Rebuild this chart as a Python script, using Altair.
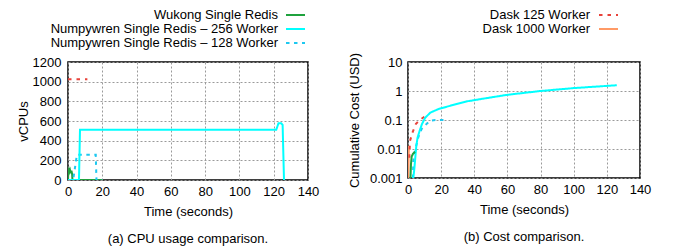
import altair as alt
import pandas as pd

FONT = "Liberation Sans"

# ---- series definitions ----
series_names = [
    "Wukong Single Redis",
    "Numpywren Single Redis – 256 Worker",
    "Numpywren Single Redis – 128 Worker",
    "Dask 125 Worker",
    "Dask 1000 Worker",
]
series_colors = ["#1fa23e", "#00ffff", "#1ec8f0", "#e8423a", "#ff9a66"]
series_dash = [[1, 0], [1, 0], [3.5, 4.5], [3.5, 5], [1, 0]]

# ---- panel (a): CPU usage (vCPUs) ----
cpu_wukong_t = [0, 0.2, 0.5, 0.8, 1.2, 1.6, 2.0, 2.4, 2.6, 20]
cpu_wukong_v = [0, 90, 105, 80, 100, 70, 95, 60, 0, 0]
cpu_np256_t = [0, 6.4, 7.0, 121.5, 122.8, 124.4, 125.2, 126.0]
cpu_np256_v = [0, 0, 512, 512, 578, 578, 560, 0]
cpu_np128_t = [0, 3.0, 5.2, 16.2, 16.6, 20]
cpu_np128_v = [0, 0, 256, 256, 0, 0]
cpu_dask125_t = [0, 11.3]
cpu_dask125_v = [1024, 1024]

# ---- panel (b): cumulative cost (USD) ----
cost_wukong_t = [1.5, 1.8, 2.2, 3.0, 4.2]
cost_wukong_v = [0.001, 0.003, 0.0055, 0.0068, 0.008]
cost_np256_t = [3.2, 3.8, 4.4, 5.0, 5.8, 7.0, 8.4, 10.4, 13.5, 18.5, 25.5, 35.6, 50, 60, 80, 100, 126]
cost_np256_v = [0.001, 0.002, 0.005, 0.0126, 0.025, 0.042, 0.072, 0.12, 0.18, 0.24, 0.31, 0.44, 0.6, 0.74, 1.0, 1.26, 1.58]
cost_np128_t = [3.0, 3.2, 4.2, 6.2, 8.2, 11.3, 13.3, 16.5, 22]
cost_np128_v = [0.001, 0.0039, 0.0087, 0.025, 0.049, 0.074, 0.095, 0.1, 0.1]
cost_dask125_t = [0.8, 1.2, 2.8, 4.8, 8.2, 11.6]
cost_dask125_v = [0.005, 0.019, 0.038, 0.074, 0.11, 0.155]
cost_dask1000_t = [0.2, 0.4, 0.6]
cost_dask1000_v = [0.001, 0.006, 0.013]

x_ticks = [0, 20, 40, 60, 80, 100, 120, 140]
cpu_ticks = [0, 200, 400, 600, 800, 1000, 1200]
cost_ticks = [0.001, 0.01, 0.1, 1, 10]


def long_df(items):
    rows = []
    for name, ts, vs in items:
        for i, (t, v) in enumerate(zip(ts, vs)):
            rows.append({"series": name, "t": t, "v": v, "i": i})
    return pd.DataFrame(rows)


df_cpu = long_df([
    (series_names[0], cpu_wukong_t, cpu_wukong_v),
    (series_names[2], cpu_np128_t, cpu_np128_v),
    (series_names[3], cpu_dask125_t, cpu_dask125_v),
    (series_names[1], cpu_np256_t, cpu_np256_v),
])
df_cost = long_df([
    (series_names[4], cost_dask1000_t, cost_dask1000_v),
    (series_names[3], cost_dask125_t, cost_dask125_v),
    (series_names[2], cost_np128_t, cost_np128_v),
    (series_names[1], cost_np256_t, cost_np256_v),
    (series_names[0], cost_wukong_t, cost_wukong_v),
])

color_enc = alt.Color("series:N", scale=alt.Scale(domain=series_names, range=series_colors), legend=None)
dash_enc = alt.StrokeDash("series:N", scale=alt.Scale(domain=series_names, range=series_dash), legend=None)

grid_kw = dict(grid=True, gridDash=[2, 2], gridColor="#9a9a9a", gridWidth=1, ticks=False,
               domain=False, labelFlush=False, labelOverlap=False)


def x_enc():
    return alt.X("t:Q", scale=alt.Scale(domain=[0, 140], nice=False),
                 axis=alt.Axis(values=x_ticks, title="Time (seconds)", labelPadding=5,
                               titlePadding=7, **grid_kw))


def legend_layers(indices, text_x, s_x0, s_x1, ys):
    layers = []
    for k, y in zip(indices, ys):
        d = pd.DataFrame({"label": [series_names[k]]})
        layers.append(alt.Chart(d).mark_rule(color=series_colors[k], strokeWidth=2,
                                             strokeDash=series_dash[k]).encode(
            x=alt.value(s_x0), x2=alt.value(s_x1), y=alt.value(y)))
        layers.append(alt.Chart(d).mark_text(align="right", baseline="middle", font=FONT,
                                             fontSize=13, color="black").encode(
            x=alt.value(text_x), y=alt.value(y), text="label:N"))
    return layers


W_A, H_A = 240, 118
W_B, H_B = 232, 116

lines_a = alt.Chart(df_cpu).mark_line(strokeWidth=2, clip=True).encode(
    x=x_enc(),
    y=alt.Y("v:Q", scale=alt.Scale(domain=[0, 1200], nice=False),
            axis=alt.Axis(values=cpu_ticks, format="d", title="vCPUs", labelPadding=7,
                          titlePadding=2, **grid_kw)),
    color=color_enc,
    strokeDash=dash_enc,
    detail="series:N",
    order=alt.Order("i:Q"),
)

panel_a = alt.layer(lines_a, *legend_layers([0, 1, 2], 210, 218, 237, [-47, -33, -19])).properties(
    width=W_A, height=H_A,
    title=alt.TitleParams("(a) CPU usage comparison.", orient="bottom", offset=15, frame="group",
                          anchor="middle", font=FONT, fontSize=13, fontWeight="normal", color="black"),
)

lines_b = alt.Chart(df_cost).mark_line(strokeWidth=2, clip=True).encode(
    x=x_enc(),
    y=alt.Y("v:Q", scale=alt.Scale(type="log", domain=[0.001, 10], nice=False),
            axis=alt.Axis(values=cost_ticks, format="~g", title="Cumulative Cost (USD)",
                          labelPadding=6, titlePadding=8, **grid_kw)),
    color=color_enc,
    strokeDash=dash_enc,
    detail="series:N",
    order=alt.Order("i:Q"),
)

panel_b = alt.layer(lines_b, *legend_layers([3, 4], 182, 191, 210, [-47, -33])).properties(
    width=W_B, height=H_B,
    title=alt.TitleParams("(b) Cost comparison.", orient="bottom", offset=15, frame="group",
                          anchor="middle", font=FONT, fontSize=13, fontWeight="normal", color="black"),
)

chart = alt.hconcat(panel_a, panel_b, spacing=27).properties(
    padding={"left": 8, "top": 0, "right": 0, "bottom": 0}
).configure_view(
    stroke="black", strokeWidth=1.5
).configure_axis(
    labelFont=FONT, titleFont=FONT, labelFontSize=13, titleFontSize=13,
    titleFontWeight="normal", labelColor="black", titleColor="black",
)

chart.save("out.html", embed_options={"renderer": "svg", "actions": False})
